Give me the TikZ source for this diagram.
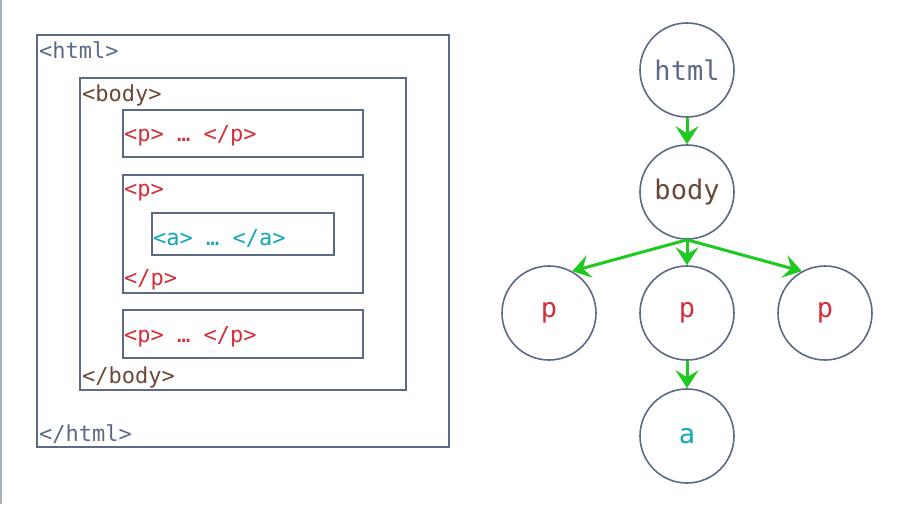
\documentclass[tikz,border=0pt]{standalone}
\usepackage{fontspec}
\setmainfont{DejaVu Sans Mono}
\usetikzlibrary{arrows.meta}
\definecolor{slate}{HTML}{5D6A85}
\definecolor{brownc}{HTML}{6B4836}
\definecolor{redc}{HTML}{D22F3A}
\definecolor{tealc}{HTML}{12A6B8}
\definecolor{greenc}{HTML}{1FC91F}
\definecolor{rulec}{HTML}{A9B0BE}
\begin{document}
\begin{tikzpicture}[x=1pt,y=-1pt,
        box/.style={draw=slate, line width=2pt},
        tag/.style={anchor=base west, inner sep=0pt, font=\fontsize{22}{26}\selectfont},
        tnode/.style={circle, draw=slate, line width=1.6pt, minimum size=94pt, inner sep=0pt,
          font=\fontsize{27}{30}\selectfont},
        edge/.style={draw=greenc, fill=greenc, line width=3pt,
          -{Stealth[length=18pt,width=23pt,inset=7pt]}}]
        \useasboundingbox (0,0) rectangle (897,504);
        \fill [white] (0,0) rectangle (897,504);
        \draw [rulec, line width=2pt] (1,0) -- (1,504);
        \draw [box] (37,35) rectangle (449,447);
        \draw [box] (80,78) rectangle (406,390);
        \draw [box] (123,110) rectangle (363,157);
        \draw [box] (123,175) rectangle (363,293);
        \draw [box] (152,213) rectangle (334,255);
        \draw [box] (123,310) rectangle (363,358);
        \node [tag, text=slate] (htmlopen) at (39,58) {<html>};
        \node [tag, text=brownc] (bodyopen) at (82,101) {<body>};
        \node [tag, text=redc] (pone) at (124,141) {<p> … </p>};
        \node [tag, text=redc] (ptwoopen) at (124,196) {<p>};
        \node [tag, text=tealc] (aone) at (153,245) {<a> … </a>};
        \node [tag, text=redc] (ptwoclose) at (124,285) {</p>};
        \node [tag, text=redc] (pthree) at (124,342) {<p> … </p>};
        \node [tag, text=brownc] (bodyclose) at (82,383) {</body>};
        \node [tag, text=slate] (htmlclose) at (39,441) {</html>};
        \node [tnode, text=slate] (html) at (687,70) {html};
        \node [tnode, text=brownc] (body) at (687,192) {body};
        \node [tnode, text=redc] (pl) at (549,313) {p};
        \node [tnode, text=redc] (pm) at (687,313) {p};
        \node [tnode, text=redc] (pr) at (825,313) {p};
        \node [tnode, text=tealc] (a) at (687,436) {a};
        \draw [edge] (html) -- (body);
        \draw [edge] (body.south) -- (pl.61);
        \draw [edge] (body.south) -- (pm);
        \draw [edge] (body.south) -- (pr.119);
        \draw [edge] (pm) -- (a);
\end{tikzpicture}
\end{document}
